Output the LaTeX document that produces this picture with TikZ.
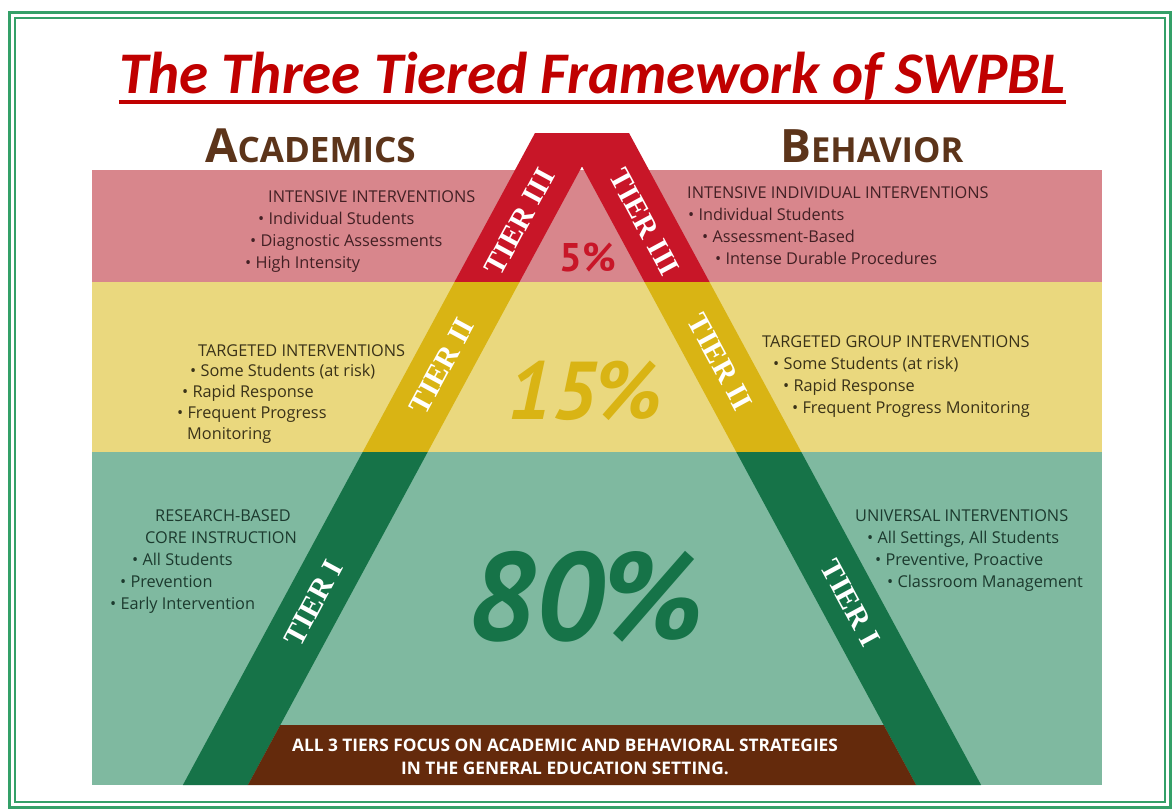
\documentclass[tikz,border=0pt]{standalone}
\usepackage{fontspec}
\setmainfont{Open Sans}
\newfontfamily\titlefont{Carlito}
\newfontfamily\tierfont{Liberation Serif}
\newfontfamily\pctfont{PT Sans}
\usepackage{tikz}

\definecolor{FrameGreen}{RGB}{52,160,104}
\definecolor{TitleRed}{RGB}{192,0,0}
\definecolor{HeadBrown}{RGB}{92,52,26}
\definecolor{BandPink}{RGB}{216,134,140}
\definecolor{BandYellow}{RGB}{234,216,126}
\definecolor{BandTeal}{RGB}{127,185,160}
\definecolor{TierRed}{RGB}{200,22,40}
\definecolor{TierGold}{RGB}{217,180,20}
\definecolor{TierGreen}{RGB}{22,115,72}
\definecolor{BaseBrown}{RGB}{100,42,12}
\definecolor{InkPink}{RGB}{66,32,36}
\definecolor{InkYellow}{RGB}{58,50,24}
\definecolor{InkTeal}{RGB}{28,58,46}

\tikzset{
  frameline/.style={draw=FrameGreen},
  headtext/.style={anchor=base west,inner sep=0pt,text=HeadBrown,font=\bfseries},
  tiertext/.style={inner sep=0pt,text=white,font=\tierfont\bfseries\fontsize{30}{30}\selectfont},
  bandtext/.style={anchor=north west,align=left,inner sep=0pt,font=\fontsize{16.3}{22}\selectfont},
  pcttext/.style={inner sep=0pt}
}

\begin{document}
\begin{tikzpicture}[x=1pt,y=-1pt]
\useasboundingbox[fill=white] (0,0) rectangle (1173,809);

% double frame
\draw[frameline,line width=3pt] (9,12) rectangle (1170,807);
\draw[frameline,line width=2pt] (15,18) rectangle (1165,802);

% title
\node[anchor=base,inner sep=0pt,text=TitleRed,font=\titlefont\bfseries\itshape\fontsize{59}{59}\selectfont] (title) at (592.5,93) {The Three Tiered Framework of SWPBL};
\draw[TitleRed,line width=3.5pt] (title.west |- 0,102) -- (title.east |- 0,102);

\node[headtext] (acad) at (205,162) {{\fontsize{47}{47}\selectfont A}{\fontsize{35}{35}\selectfont CADEMICS}};
\node[headtext] (behav) at (780,162) {{\fontsize{46}{46}\selectfont B}{\fontsize{34.5}{34.5}\selectfont EHAVIOR}};

% bands
\fill[BandPink] (92,170) rectangle (1102,282);
\fill[BandYellow] (92,282) rectangle (1102,452);
\fill[BandTeal] (92,452) rectangle (1102,785);

% tier strips
\fill[TierRed] (535,133) -- (629,133) -- (709.5,282) -- (644.5,282) -- (582,166.3)
  -- (519.5,282) -- (454.5,282) -- cycle;
\fill[TierGold] (454.5,282) -- (519.5,282) -- (427.7,452) -- (362.7,452) -- cycle;
\fill[TierGold] (644.5,282) -- (709.5,282) -- (801.3,452) -- (736.3,452) -- cycle;
\fill[TierGreen] (362.7,452) -- (427.7,452) -- (247.9,785) -- (182.9,785) -- cycle;
\fill[TierGreen] (736.3,452) -- (801.3,452) -- (981.1,785) -- (916.1,785) -- cycle;

% base
\fill[BaseBrown] (280.3,725) -- (883.7,725) -- (916.1,785) -- (247.9,785) -- cycle;
\node[align=center,inner sep=0pt,text=white,font=\bfseries\fontsize{17.3}{23}\selectfont] (base) at (565,757)
  {ALL 3 TIERS FOCUS ON ACADEMIC AND BEHAVIORAL STRATEGIES\\IN THE GENERAL EDUCATION SETTING.};

% tier labels
\node[tiertext,rotate=61.6] (lIII) at (519.4,222) {TIER III};
\node[tiertext,rotate=61.6] (lII) at (441.7,366) {TIER II};
\node[tiertext,rotate=61.6] (lI) at (313.7,603) {TIER I};
\node[tiertext,rotate=-61.6] (rIII) at (644.6,222) {TIER III};
\node[tiertext,rotate=-61.6] (rII) at (720.2,362) {TIER II};
\node[tiertext,rotate=-61.6] (rI) at (850.3,603) {TIER I};

% percentages
\node[pcttext,text=TierRed,font=\pctfont\bfseries\fontsize{40}{40}\selectfont] (p5) at (588,257) {5\%};
\node[pcttext,text=TierGold,font=\pctfont\bfseries\itshape\fontsize{82}{82}\selectfont] (p15) at (585,391) {15\%};
\node[pcttext,text=TierGreen,font=\pctfont\bfseries\itshape\fontsize{125}{125}\selectfont] (p80) at (586,597) {80\%};

% academics side
\node[bandtext,text=InkPink] (acadIII) at (245,190)
  {\hspace*{23pt}INTENSIVE INTERVENTIONS\\
   \hspace*{13pt}• Individual Students\\
   \hspace*{5pt}• Diagnostic Assessments\\
   • High Intensity};
\node[bandtext,text=InkYellow,font=\fontsize{16.3}{20.8}\selectfont] (acadII) at (177,344)
  {\hspace*{21pt}TARGETED INTERVENTIONS\\
   \hspace*{13pt}• Some Students (at risk)\\
   \hspace*{5pt}• Rapid Response\\
   • Frequent Progress\\
   \hspace*{10pt}Monitoring};
\node[bandtext,text=InkTeal] (acadI) at (110,509)
  {\hspace*{45pt}RESEARCH-BASED\\
   \hspace*{35pt}CORE INSTRUCTION\\
   \hspace*{22pt}• All Students\\
   \hspace*{10pt}• Prevention\\
   • Early Intervention};

% behavior side
\node[bandtext,text=InkPink] (behavIII) at (687,186)
  {INTENSIVE INDIVIDUAL INTERVENTIONS\\
   \hspace*{1pt}• Individual Students\\
   \hspace*{15pt}• Assessment-Based\\
   \hspace*{28pt}• Intense Durable Procedures};
\node[bandtext,text=InkYellow] (behavII) at (762,335)
  {TARGETED GROUP INTERVENTIONS\\
   \hspace*{11pt}• Some Students (at risk)\\
   \hspace*{21pt}• Rapid Response\\
   \hspace*{30pt}• Frequent Progress Monitoring};
\node[bandtext,text=InkTeal] (behavI) at (855,509)
  {UNIVERSAL INTERVENTIONS\\
   \hspace*{12pt}• All Settings, All Students\\
   \hspace*{20pt}• Preventive, Proactive\\
   \hspace*{32pt}• Classroom Management};
\end{tikzpicture}
\end{document}
